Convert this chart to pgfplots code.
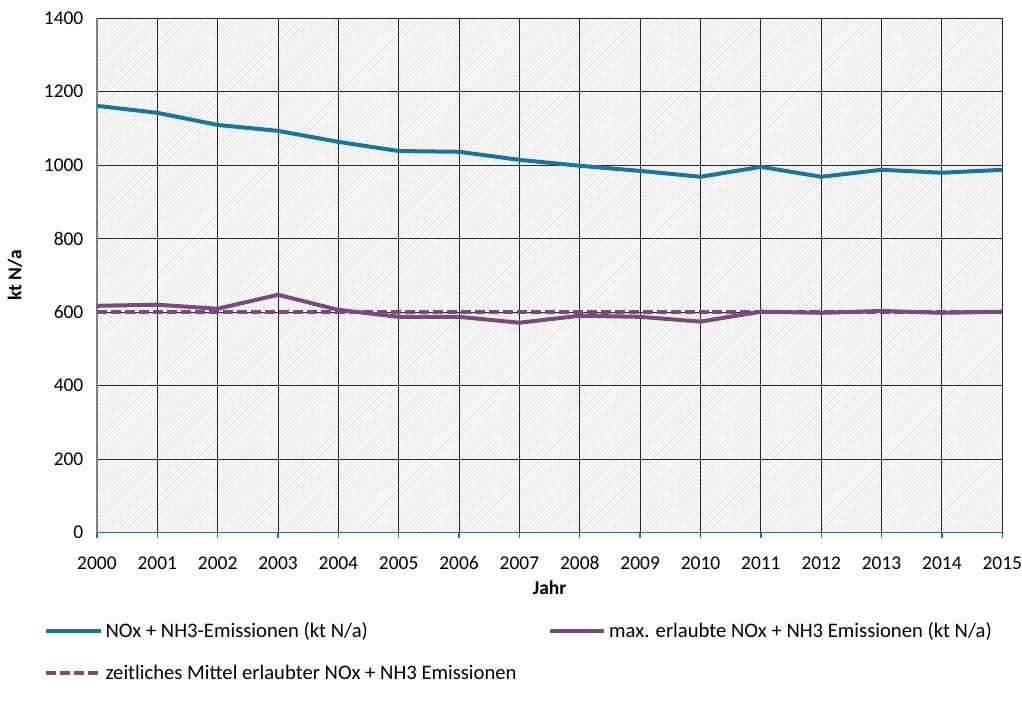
\documentclass[border=0pt]{standalone}
\usepackage{fontspec}
\setmainfont{Carlito}
\usepackage{pgfplots}
\pgfplotsset{compat=1.18}
\usetikzlibrary{patterns.meta}
\definecolor{emblue}{HTML}{17769F}
\definecolor{empurple}{HTML}{7A4A7C}

\begin{document}
\fontsize{14.6}{17.5}\selectfont
\begin{tikzpicture}
\begin{axis}[
  name=main,
  scale only axis, width=679.5pt, height=386.25pt,
  xmin=2000, xmax=2015, ymin=0, ymax=1400,
  xtick={2000,2001,...,2015}, ytick={0,200,...,1400},
  /pgf/number format/1000 sep={},
  /pgf/number format/assume math mode=true,
  axis lines*=left,
  x axis line style={emblue, line width=1.2pt},
  y axis line style={black!50, line width=1pt},
  grid=major, grid style={black!85, line width=0.7pt},
  xtick align=outside, major tick length=3.75pt,
  xtick style={emblue, line width=1pt},
  ytick style={draw=none},
  xticklabel style={anchor=base, yshift=-24pt, inner sep=0pt},
  yticklabel style={anchor=east, inner sep=0pt, xshift=-10pt},
  axis background/.style={pattern={Lines[angle=45,distance=2.2pt,line width=0.5pt]}, pattern color=black!16},
  every axis y label/.style={at={(axis description cs:-0.0905,0.5)}, rotate=90, anchor=center, font=\bfseries},
  every axis x label/.style={at={(axis description cs:0.5,-0.107)}, anchor=center, font=\bfseries},
  ylabel={kt N/a}, xlabel={Jahr},
  legend columns=2,
  legend cell align=left,
  legend style={at={(axis description cs:-0.0585,-0.168)}, anchor=north west, draw=none, fill=none, inner sep=0pt, row sep=14.5pt,
    nodes={inner sep=2pt}, font=\fontsize{15.5}{18.5}\selectfont},
  legend image code/.code={\draw[#1] (0pt,0pt) -- (41pt,0pt);},
]
\addplot[emblue, line width=3pt] coordinates {
  (2000,1161) (2001,1142) (2002,1109) (2003,1093) (2004,1063) (2005,1038)
  (2006,1036) (2007,1014) (2008,998) (2009,984) (2010,968) (2011,995)
  (2012,968) (2013,987) (2014,979) (2015,987)
};
\addlegendentry{\makebox[330pt][l]{NOx + NH3-Emissionen (kt N/a)}}
\addplot[empurple, line width=3pt] coordinates {
  (2000,617) (2001,620) (2002,609) (2003,647) (2004,606) (2005,587)
  (2006,587) (2007,571) (2008,590) (2009,587) (2010,574) (2011,601)
  (2012,598) (2013,603) (2014,598) (2015,601)
};
\addlegendentry{max. erlaubte NOx + NH3 Emissionen (kt N/a)}
\addplot[empurple, line width=3pt, dash pattern=on 7.5pt off 3pt] coordinates {
  (2000,600) (2001,600) (2002,600) (2003,600) (2004,600) (2005,600)
  (2006,600) (2007,600) (2008,600) (2009,600) (2010,600) (2011,600)
  (2012,600) (2013,600) (2014,600) (2015,600)
};
\addlegendentry{zeitliches Mittel erlaubter NOx + NH3 Emissionen}
\draw[black, line width=0.8pt] (axis description cs:-0.096,-0.136) -- (axis description cs:1.002,-0.136);
\end{axis}
\useasboundingbox (main.south west) ++(-72.75pt,-126.75pt) rectangle ++(766.5pt,526.5pt);
\end{tikzpicture}
\end{document}
